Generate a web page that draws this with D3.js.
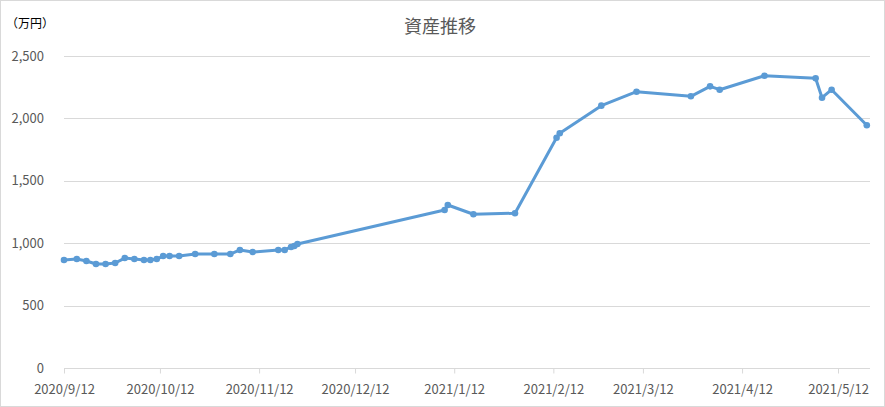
<!DOCTYPE html>
<html lang="ja">
<head>
<meta charset="utf-8">
<title>資産推移</title>
<script src="https://d3js.org/d3.v7.min.js"></script>
<style>
  body{margin:0;background:#fff;font-family:"Noto Sans CJK JP","Noto Sans",sans-serif;}
  #chart{width:885px;height:407px;}
</style>
</head>
<body>
<div id="chart"></div>
<script>
// dates and values (万円)
var dates = ["2020-09-12","2020-09-16","2020-09-19","2020-09-22","2020-09-25","2020-09-28",
  "2020-10-01","2020-10-04","2020-10-07","2020-10-09","2020-10-11","2020-10-13","2020-10-15",
  "2020-10-18","2020-10-23","2020-10-29","2020-11-03","2020-11-06","2020-11-10","2020-11-18",
  "2020-11-20","2020-11-22","2020-11-23","2020-11-24",
  "2021-01-09","2021-01-10","2021-01-18","2021-01-31","2021-02-13","2021-02-14","2021-02-27",
  "2021-03-10","2021-03-27","2021-04-02","2021-04-05","2021-04-19","2021-05-05","2021-05-07",
  "2021-05-10","2021-05-21"]
var values = [865,873,857,833,833,841,
  881,873,865,865,873,897,897,
  897,913,913,913,946,929,946,
  946,970,978,994,
  1266,1306,1232,1240,1845,1881,2102,
  2214,2177,2257,2230,2342,2321,2166,
  2230,1945]
var tickDates = ["2020-09-12","2020-10-12","2020-11-12","2020-12-12","2021-01-12",
  "2021-02-12","2021-03-12","2021-04-12","2021-05-12"]
var tickLabels = ["2020/9/12","2020/10/12","2020/11/12","2020/12/12","2021/1/12",
  "2021/2/12","2021/3/12","2021/4/12","2021/5/12"]
var yTicks = [0,500,1000,1500,2000,2500]

var parse = d3.timeParse("%Y-%m-%d")
var data = dates.map(function(d,i){ return {date:parse(d), value:values[i]} })

var w = 885, h = 407
var plotLeft = 64, plotRight = 870, plotTop = 56, plotBottom = 368

var xScale = d3.scaleTime()
  .domain([parse("2020-09-12"), parse("2021-05-22")])
  .range([plotLeft, plotRight])
var yScale = d3.scaleLinear().domain([0,2500]).range([plotBottom, plotTop])

var svg = d3.select("#chart").append("svg")
  .attr("width", w).attr("height", h)

// outer frame
svg.append("rect")
  .attr("x",0.5).attr("y",0.5).attr("width",w-1).attr("height",h-1)
  .attr("fill","#fff").attr("stroke","#d9d9d9")

// horizontal gridlines
svg.append("g").selectAll("line")
  .data(yTicks.filter(function(d){ return d>0 }))
  .enter().append("line")
  .attr("x1",plotLeft).attr("x2",plotRight)
  .attr("y1",function(d){ return Math.round(yScale(d))+0.5 })
  .attr("y2",function(d){ return Math.round(yScale(d))+0.5 })
  .attr("stroke","#d9d9d9")

// y labels
var yAxis = d3.axisLeft(yScale).tickValues(yTicks).tickSize(0).tickPadding(0)
  .tickFormat(d3.format(","))
var yg = svg.append("g").attr("transform","translate(44,0)").call(yAxis)
yg.select(".domain").remove()
yg.selectAll("text").attr("fill","#595959").style("font-size","13px")
  .style("font-family","'Noto Sans CJK JP',sans-serif")

// x axis
var xAxis = d3.axisBottom(xScale)
  .tickValues(tickDates.map(parse))
  .tickSize(5).tickPadding(11)
  .tickFormat(function(d,i){ return tickLabels[i] })
var xg = svg.append("g").attr("transform","translate(0,"+(plotBottom+0.5)+")").call(xAxis)
xg.select(".domain").attr("d","M"+plotLeft+",0H"+plotRight).attr("stroke","#d9d9d9")
xg.selectAll(".tick line").attr("stroke","#d9d9d9")
xg.selectAll("text").attr("fill","#595959").style("font-size","13px")
  .style("font-family","'Noto Sans CJK JP',sans-serif")

// line
var line = d3.line()
  .x(function(d){ return xScale(d.date) })
  .y(function(d){ return yScale(d.value) })
svg.append("path").datum(data)
  .attr("d", line)
  .attr("fill","none")
  .attr("stroke","#5b9bd5")
  .attr("stroke-width",3)
  .attr("stroke-linejoin","round")

svg.append("g").selectAll("circle")
  .data(data).enter().append("circle")
  .attr("cx",function(d){ return xScale(d.date) })
  .attr("cy",function(d){ return yScale(d.value) })
  .attr("r",3.3)
  .attr("fill","#5b9bd5")

// title and unit
svg.append("text")
  .attr("x",440).attr("y",33)
  .attr("text-anchor","middle")
  .attr("fill","#595959")
  .style("font-size","18px")
  .text("資産推移")
svg.append("text")
  .attr("x",6).attr("y",28)
  .attr("fill","#000")
  .style("font-size","12px")
  .text("（万円）")
</script>
</body>
</html>
